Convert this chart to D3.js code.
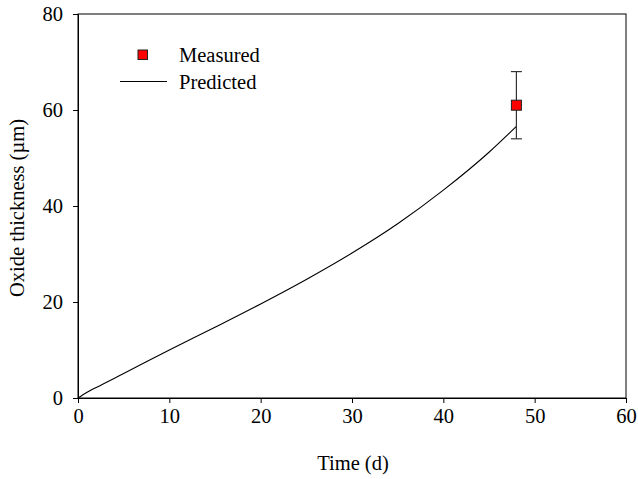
<!DOCTYPE html>
<html lang="en">
<head>
<meta charset="UTF-8">
<title>Oxide thickness</title>
<script src="https://d3js.org/d3.v7.min.js"></script>
<style>
  body { margin: 0; background: #fff; }
  text { font-family: "Liberation Serif", "Times New Roman", serif; fill: #000; }
</style>
</head>
<body>
<svg id="chart" width="638" height="479"></svg>
<script>
    // predicted curve
    let predTime = [0, 1, 2, 5, 10, 15, 20, 25, 30, 35, 40, 45, 48];
    let predThick = [0, 1.2, 2.2, 5.1, 10.0, 14.75, 19.6, 24.7, 30.2, 36.3, 43.3, 51.2, 56.6];

    // measured point with error bar
    let measTime = [48];
    let measThick = [61];
    let measErr = [7];

    let xTicks = [0, 10, 20, 30, 40, 50, 60];
    let yTicks = [0, 20, 40, 60, 80];

    const svg = d3.select('#chart');
    const plotL = 78, plotR = 626, plotT = 14, plotB = 398;
    const fs = 20.5;

    let x = d3.scaleLinear().domain([0, 60]).range([plotL, plotR]);
    let y = d3.scaleLinear().domain([0, 80]).range([plotB, plotT]);

    // frame
    svg.append('rect')
        .attr('x', plotL).attr('y', plotT)
        .attr('width', plotR - plotL).attr('height', plotB - plotT)
        .attr('fill', 'none').attr('stroke', '#000').attr('stroke-width', 1);

    let xAxis = svg.append('g')
        .attr('transform', `translate(0,${plotB})`)
        .call(d3.axisBottom(x).tickValues(xTicks).tickSize(5).tickPadding(5));
    let yAxis = svg.append('g')
        .attr('transform', `translate(${plotL},0)`)
        .call(d3.axisLeft(y).tickValues(yTicks).tickSize(5).tickPadding(10));

    [xAxis, yAxis].forEach(a => {
        a.select('.domain').attr('stroke', '#000');
        a.selectAll('.tick line').attr('stroke', '#000');
        a.selectAll('.tick text').attr('font-size', fs)
            .style('font-family', '"Liberation Serif", serif');
    });

    svg.append('text')
        .attr('x', (plotL + plotR) / 2 + 1).attr('y', 470)
        .attr('text-anchor', 'middle').attr('font-size', fs)
        .text('Time (d)');

    svg.append('text')
        .attr('transform', `translate(24,${(plotT + plotB) / 2 + 2}) rotate(-90)`)
        .attr('text-anchor', 'middle').attr('font-size', fs)
        .text('Oxide thickness (µm)');

    // predicted line
    let line = d3.line()
        .x((d, i) => x(predTime[i]))
        .y(d => y(d))
        .curve(d3.curveMonotoneX);
    svg.append('path')
        .datum(predThick)
        .attr('d', line)
        .attr('fill', 'none').attr('stroke', '#000').attr('stroke-width', 1.1);

    // error bars
    measTime.forEach((t, i) => {
        let g = svg.append('g').attr('stroke', '#333').attr('stroke-width', 1.2);
        let cx = x(t);
        g.append('line').attr('x1', cx).attr('x2', cx)
            .attr('y1', y(measThick[i] + measErr[i])).attr('y2', y(measThick[i] - measErr[i]));
        [measThick[i] + measErr[i], measThick[i] - measErr[i]].forEach(v => {
            g.append('line').attr('x1', cx - 5.5).attr('x2', cx + 5.5)
                .attr('y1', y(v)).attr('y2', y(v));
        });
    });

    svg.selectAll('.meas')
        .data(measThick)
        .enter().append('rect')
        .attr('class', 'meas')
        .attr('x', (d, i) => x(measTime[i]) - 5)
        .attr('y', d => y(d) - 5)
        .attr('width', 10).attr('height', 10)
        .attr('fill', '#ff0000').attr('stroke', '#222').attr('stroke-width', 1);

    // legend
    svg.append('rect')
        .attr('x', 138).attr('y', 50).attr('width', 9.5).attr('height', 9.5)
        .attr('fill', '#ff0000').attr('stroke', '#222').attr('stroke-width', 1);
    svg.append('text').attr('x', 179).attr('y', 62).attr('font-size', fs).text('Measured');
    svg.append('line')
        .attr('x1', 120).attr('x2', 167).attr('y1', 81.5).attr('y2', 81.5)
        .attr('stroke', '#000').attr('stroke-width', 1);
    svg.append('text').attr('x', 179).attr('y', 88.5).attr('font-size', fs).text('Predicted');
</script>
</body>
</html>
